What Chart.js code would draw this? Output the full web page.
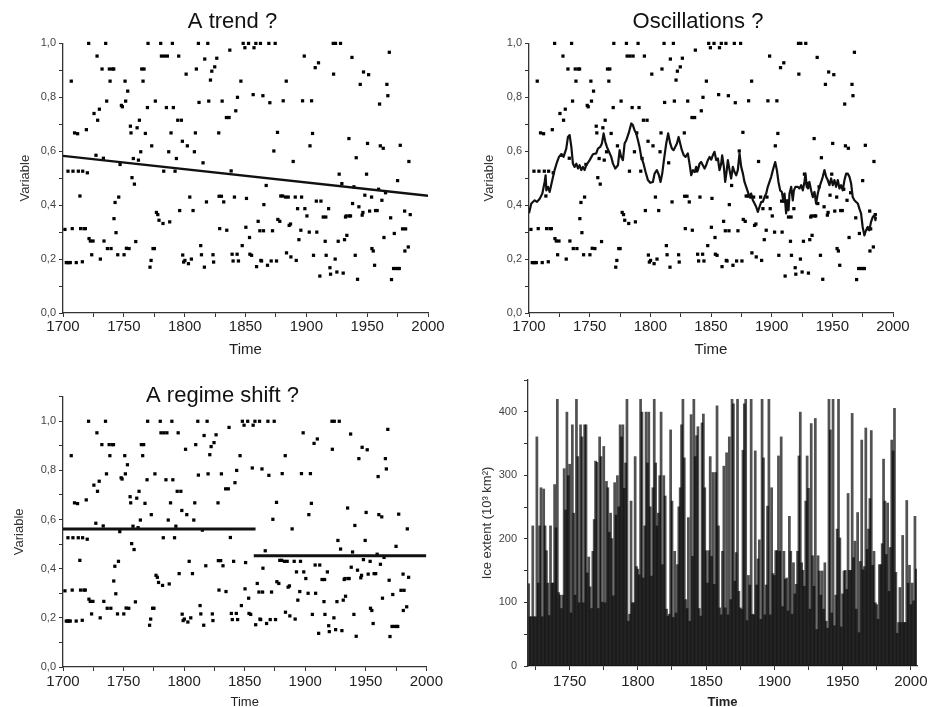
<!DOCTYPE html>
<html><head><meta charset="utf-8">
<script src="https://cdn.jsdelivr.net/npm/chart.js@4.4.0/dist/chart.umd.min.js"></script>
<style>
html,body{margin:0;padding:0;background:#fff;overflow:hidden;width:931px;height:707px;}
canvas{position:absolute;}
</style></head><body>
<canvas id="c1" width="465" height="362" style="left:0;top:0"></canvas>
<canvas id="c2" width="466" height="362" style="left:465px;top:0"></canvas>
<canvas id="c3" width="445" height="352" style="left:0;top:362px"></canvas>
<canvas id="c4" width="466" height="352" style="left:465px;top:362px"></canvas>
<script>
// ---- data ----
const dotYears = [1701.6,1702.7,1703.8,1704.1,1704.9,1706.0,1706.8,1707.6,1708.2,1709.5,1710.9,1712.0,1712.6,1713.9,1714.5,1715.9,1716.2,1717.3,1718.4,1719.2,1720.0,1721.1,1721.4,1722.5,1723.6,1724.7,1725.5,1727.1,1728.0,1728.5,1729.9,1730.7,1732.1,1733.2,1733.7,1735.1,1735.9,1736.5,1738.1,1738.7,1739.5,1740.6,1741.7,1741.9,1742.8,1743.6,1745.0,1745.8,1746.9,1748.0,1748.8,1750.2,1751.0,1751.5,1752.1,1753.2,1754.3,1755.4,1755.9,1756.7,1757.8,1758.7,1759.8,1760.9,1762.0,1762.8,1763.9,1764.7,1765.8,1766.6,1767.7,1769.4,1769.9,1771.5,1772.4,1772.9,1774.0,1775.1,1775.9,1776.8,1777.9,1778.9,1780.3,1780.9,1782.2,1782.8,1783.3,1785.0,1785.8,1786.9,1787.7,1788.8,1789.9,1790.7,1792.1,1793.2,1794.3,1795.1,1795.9,1797.3,1798.1,1798.4,1799.2,1800.2,1801.2,1802.2,1803.1,1804.2,1805.5,1806.9,1808.0,1808.8,1809.6,1811.3,1811.8,1813.2,1813.8,1815.1,1816.2,1816.5,1817.9,1819.0,1819.8,1821.2,1822.3,1823.3,1823.8,1824.7,1826.4,1828.0,1828.3,1828.8,1830.2,1830.8,1832.1,1834.3,1834.6,1836.5,1837.1,1838.2,1839.0,1839.8,1840.9,1842.0,1843.1,1843.4,1844.2,1846.2,1847.3,1848.1,1849.5,1850.3,1850.8,1852.5,1853.3,1853.6,1855.0,1856.3,1857.0,1858.5,1859.1,1860.4,1861.8,1862.3,1862.6,1863.2,1864.3,1864.8,1865.1,1867.0,1868.1,1869.2,1870.0,1871.1,1872.2,1873.3,1874.4,1875.5,1876.3,1876.6,1878.2,1879.0,1880.6,1881.0,1882.9,1883.5,1883.7,1885.1,1885.9,1887.0,1887.3,1889.2,1890.9,1891.7,1892.8,1893.9,1895.5,1896.1,1896.9,1898.3,1898.8,1900.5,1902.4,1903.0,1904.3,1905.1,1905.9,1907.3,1908.2,1908.6,1910.0,1911.1,1912.0,1913.9,1915.5,1916.0,1916.3,1918.3,1919.4,1919.9,1922.1,1922.4,1923.7,1924.0,1925.1,1926.2,1927.0,1928.1,1929.2,1930.3,1931.4,1932.2,1932.8,1933.3,1935.0,1935.3,1936.3,1937.5,1938.0,1939.1,1940.2,1941.0,1942.1,1943.2,1944.3,1945.9,1946.5,1947.0,1948.1,1949.5,1950.3,1951.2,1952.0,1953.6,1953.9,1955.0,1956.1,1956.9,1958.2,1959.4,1960.2,1960.8,1962.1,1963.2,1963.8,1965.1,1966.2,1967.0,1968.2,1969.3,1970.0,1971.7,1972.3,1973.4,1975.0,1975.3,1976.4,1977.2,1979.1,1980.8,1981.0,1981.6,1983.8,1984.3,1985.4];
const dotValues = [.31,.187,.187,.526,.187,.187,.86,.313,.526,.668,.187,.665,.526,.434,.313,.19,.526,.313,.313,.68,.52,1.0,.276,.267,.216,.267,.74,.585,.953,.715,.756,.2,.905,.574,.267,1.0,.786,.239,.905,.86,.239,.905,.905,.35,.41,.298,.216,.43,.551,.77,.765,.216,.86,.786,.24,.823,.239,.693,.668,.502,.573,.478,.265,.687,.567,.715,.598,.905,.86,.905,.666,.762,1.0,.17,.195,.62,.239,.239,.786,.373,.365,.344,1.0,.953,.332,.526,.953,.762,.953,.598,.338,.668,1.0,.762,.526,.573,.715,.953,.38,.715,.637,.215,.189,.195,.886,.62,.183,.43,.2,.38,.598,.668,.905,1.0,.781,.25,.216,.557,.17,.942,.412,1.0,.786,.864,.897,.216,.189,.913,.945,.668,.433,.313,.433,.786,.412,.725,.307,.725,.975,.527,.218,.193,.43,.75,.218,.8,.193,.86,.25,1.0,.984,.318,.425,1.0,.28,.218,.214,.81,.984,1.0,.172,.34,.305,1.0,.195,.193,.806,.305,.402,.473,.177,1.0,.78,.193,.305,.601,1.0,.193,.67,.347,.34,.434,.434,.787,.43,.86,.223,.43,.325,.33,.208,.562,.43,.195,.387,.272,.307,.43,.787,.953,.387,.36,.3,.62,.787,.666,.214,.91,.415,.3,.928,.137,.415,.356,.266,.356,.214,.387,.168,.144,1.0,.886,.2,1.0,.152,.266,.515,1.0,.48,.148,.272,.356,.36,.288,.647,.36,.36,.948,.406,.468,.214,.576,.125,.394,.848,.363,.373,.894,.437,.515,.629,.884,.378,.43,.239,.23,.177,.38,.38,.459,.775,.62,.418,.611,.28,.446,.848,.806,.967,.353,.124,.165,.295,.165,.491,.165,.165,.622,.312,.378,.23,.312,.245,.562,.365];

const trendYears = [1700, 2000];
const trendValues = [0.583, 0.435];

const regimeYears1 = [1700, 1859];
const regimeValues1 = [0.562, 0.562];
const regimeYears2 = [1857.5, 2000];
const regimeValues2 = [0.453, 0.453];

const smoothYears = [1700.0,1701.9,1704.7,1706.6,1708.8,1711.0,1712.9,1713.7,1714.3,1715.6,1717.0,1719.2,1721.1,1723.1,1724.7,1726.6,1728.5,1730.7,1732.1,1733.5,1734.9,1736.2,1737.6,1739.0,1740.4,1741.7,1743.1,1744.5,1745.8,1747.2,1750.0,1752.7,1755.4,1756.8,1758.7,1760.1,1761.5,1762.9,1764.2,1765.9,1767.8,1769.2,1771.1,1773.3,1774.7,1776.0,1777.4,1778.8,1780.2,1782.1,1784.3,1785.6,1787.0,1788.4,1789.8,1791.1,1792.5,1794.4,1796.1,1798.0,1799.9,1802.1,1803.5,1805.4,1807.1,1808.4,1809.8,1811.2,1813.1,1814.7,1816.4,1817.8,1819.1,1820.5,1821.9,1823.3,1824.6,1826.0,1827.6,1829.0,1830.9,1832.3,1833.7,1835.1,1836.5,1837.8,1839.2,1840.6,1841.9,1843.3,1844.7,1846.0,1847.4,1848.8,1850.2,1851.5,1852.9,1854.3,1855.7,1857.0,1858.4,1859.2,1860.6,1861.7,1862.8,1863.9,1865.3,1866.6,1868.0,1869.4,1870.8,1872.1,1873.5,1874.9,1876.3,1877.6,1879.0,1880.4,1881.7,1883.1,1884.5,1885.9,1887.2,1888.6,1890.0,1891.4,1892.7,1894.1,1895.5,1896.8,1898.2,1899.6,1901.0,1902.9,1904.3,1905.6,1907.0,1908.4,1909.7,1910.6,1911.9,1912.8,1913.9,1914.7,1916.1,1917.4,1918.3,1919.6,1921.5,1922.9,1924.3,1925.7,1927.0,1927.9,1928.9,1930.0,1931.1,1932.5,1933.9,1935.3,1936.6,1938.0,1939.4,1940.8,1942.1,1943.5,1944.9,1946.2,1947.6,1949.0,1950.4,1951.7,1953.1,1954.5,1955.9,1957.2,1958.6,1960.0,1961.4,1962.7,1964.1,1965.5,1966.8,1968.2,1969.6,1971.0,1972.3,1973.7,1975.0,1976.4,1977.8,1979.2,1980.5,1981.9,1983.3,1984.7,1985.5,1986.0];
const smoothValues = [.37,.406,.418,.412,.424,.443,.486,.511,.455,.468,.449,.493,.53,.56,.579,.589,.579,.61,.653,.66,.616,.554,.542,.554,.536,.548,.53,.542,.53,.548,.567,.589,.592,.61,.616,.629,.666,.635,.616,.598,.579,.554,.536,.548,.604,.579,.567,.629,.641,.666,.703,.697,.678,.666,.641,.616,.579,.554,.523,.493,.483,.486,.517,.53,.511,.486,.517,.567,.629,.666,.629,.61,.604,.616,.629,.653,.629,.604,.585,.579,.592,.554,.511,.53,.523,.542,.53,.554,.56,.548,.536,.548,.567,.579,.569,.585,.598,.567,.573,.53,.554,.585,.542,.486,.523,.567,.53,.499,.542,.523,.511,.53,.592,.542,.517,.486,.468,.449,.43,.443,.418,.406,.394,.375,.394,.412,.412,.43,.443,.468,.486,.505,.53,.56,.53,.486,.455,.449,.412,.443,.369,.418,.381,.443,.468,.418,.455,.468,.468,.462,.474,.455,.486,.517,.468,.462,.486,.455,.43,.449,.406,.443,.468,.486,.505,.53,.505,.493,.474,.499,.474,.493,.468,.493,.462,.474,.455,.493,.517,.517,.505,.48,.43,.418,.412,.406,.387,.369,.319,.288,.307,.319,.307,.338,.356,.363,.344,.356];

const iceFirstYear = 1720;
const iceValues = [130,78,78,221,78,78,361,131,221,281,78,279,221,182,131,80,221,131,131,286,218,420,116,112,91,112,311,246,400,300,318,84,380,241,112,420,330,100,380,361,100,380,380,147,172,125,91,181,231,323,321,91,361,330,101,346,100,291,281,211,241,201,111,289,238,300,251,380,361,380,280,320,420,71,82,260,100,100,330,157,153,144,420,400,139,221,400,320,400,251,142,281,420,320,221,241,300,400,160,300,268,90,79,82,372,260,77,181,84,160,251,281,380,420,328,105,91,234,71,396,173,420,330,363,377,91,79,383,397,281,182,131,182,330,173,305,129,305,410,221,92,81,181,315,92,336,81,361,105,420,413,134,179,420,118,92,90,340,413,420,72,143,128,420,82,81,339,128,169,199,74,420,328,81,128,252,420,81,281,146,143,182,182,331,181,361,94,181,137,139,87,236,181,82,163,114,129,181,331,400,163,151,126,260,331,280,90,382,174,126,390,58,174,150,112,150,90,163,71,60,420,372,84,420,64,112,216,420,202,62,114,150,151,121,272,151,151,398,171,197,90,242,53,165,356,152,157,375,184,216,264,371,159,181,100,97,74,160,160,193,326,260,176,257,118,187,356,339,406,148,52,69,124,69,206,69,69,261,131,159,97,131,103,236,153];
const iceYears = iceValues.map((_, i) => iceFirstYear + i);

const xTickLabels = [1700, 1750, 1800, 1850, 1900, 1950, 2000];
const varTickLabels = ['0,0','0,2','0,4','0,6','0,8','1,0'];
const iceTickLabels = [0, 100, 200, 300, 400];

// ---- helpers ----
Chart.defaults.font.family = "'Liberation Sans', Arial, Helvetica, sans-serif";
Chart.defaults.color = '#333';
const AX = '#333';
function pts(xs, ys) { return xs.map((x, i) => ({x: x, y: ys[i]})); }

function xScale(c) {
  return {
    type: 'linear', position: 'bottom', min: c.min, max: c.max, offset: false,
    border: {display: true, color: AX, width: 1.3},
    grid: {display: true, offset: false, drawOnChartArea: false, drawTicks: true, tickLength: 4, color: AX, lineWidth: 1},
    ticks: {stepSize: 25, includeBounds: false, autoSkip: false, maxRotation: 0, minRotation: 0,
      padding: c.tickPad, color: '#222', font: {size: 15},
      callback: v => { const r = Math.round(v); return xTickLabels.includes(r) ? String(r) : ''; }},
    title: {display: true, text: 'Time', color: '#222',
      font: {size: c.titleSize, weight: c.titleWeight || 'normal'}, padding: {top: 0, bottom: c.titlePad}},
    afterFit: s => { s.height = c.height; }
  };
}
function yVar(c) {
  return {
    type: 'linear', position: 'left', min: 0, max: c.max,
    border: {display: true, color: AX, width: 1.3},
    grid: {display: true, drawOnChartArea: false, drawTicks: true, tickLength: 4, color: AX, lineWidth: 1},
    ticks: {stepSize: 0.1, includeBounds: false, autoSkip: false, padding: 3, color: '#444', font: {size: 11},
      callback: v => { const k = Math.round(v * 10); return (k % 2 === 0 && k <= 10) ? varTickLabels[k / 2] : ''; }},
    title: {display: true, text: 'Variable', color: '#333', font: {size: 13}, padding: {top: c.titlePad, bottom: 0}},
    afterFit: s => { s.width = c.width; }
  };
}
function dummyRight(w) {
  return {type: 'linear', position: 'right', display: true, grid: {display: false}, border: {display: false},
    ticks: {display: false}, afterFit: s => { s.width = w; }};
}
function dotsDataset() {
  return {data: pts(dotYears, dotValues), pointStyle: 'rect', pointRadius: 2.3, pointBackgroundColor: '#000',
    pointBorderWidth: 0, showLine: false, clip: false};
}
function lineDataset(xs, ys, w) {
  return {data: pts(xs, ys), showLine: true, borderColor: '#111', borderWidth: w, pointRadius: 0, fill: false, tension: 0,
    borderJoinStyle: 'round'};
}
const base = {responsive: false, animation: false, devicePixelRatio: 1, events: []};
function titleCfg(text, top, bottom) {
  return {display: true, text: text, color: '#111', font: {size: 22, weight: 'normal'}, padding: {top: top, bottom: bottom}};
}

// ---- Panel 1 : A trend ? ----
new Chart(document.getElementById('c1'), {
  type: 'scatter',
  data: {datasets: [lineDataset(trendYears, trendValues, 2.4), dotsDataset()]},
  options: Object.assign({}, base, {
    layout: {padding: 0},
    plugins: {legend: {display: false}, tooltip: {enabled: false}, title: titleCfg('A trend ?', 9, 8)},
    scales: {
      x: xScale({min: 1700, max: 2000, tickPad: 1, titleSize: 15, titlePad: 3, height: 49}),
      y: yVar({max: 1, width: 63, titlePad: 18}),
      yr: dummyRight(37)
    }
  })
});

// ---- Panel 2 : Oscillations ? ----
new Chart(document.getElementById('c2'), {
  type: 'scatter',
  data: {datasets: [lineDataset(smoothYears, smoothValues, 2.2), dotsDataset()]},
  options: Object.assign({}, base, {
    layout: {padding: 0},
    plugins: {legend: {display: false}, tooltip: {enabled: false}, title: titleCfg('Oscillations ?', 9, 8)},
    scales: {
      x: xScale({min: 1700, max: 2000, tickPad: 1, titleSize: 15, titlePad: 3, height: 49}),
      y: yVar({max: 1, width: 64, titlePad: 17}),
      yr: dummyRight(38)
    }
  })
});

// ---- Panel 3 : A regime shift ? ----
new Chart(document.getElementById('c3'), {
  type: 'scatter',
  data: {datasets: [lineDataset(regimeYears1, regimeValues1, 3), lineDataset(regimeYears2, regimeValues2, 3), dotsDataset()]},
  options: Object.assign({}, base, {
    layout: {padding: 0},
    plugins: {legend: {display: false}, tooltip: {enabled: false}, title: titleCfg('A regime shift ?', 21, -12.7)},
    scales: {
      x: xScale({min: 1700, max: 2000, tickPad: 2, titleSize: 13, titlePad: 4, height: 47}),
      y: yVar({max: 1.1, width: 63, titlePad: 12}),
      yr: dummyRight(17)
    }
  })
});

// ---- Panel 4 : Ice extent ----
new Chart(document.getElementById('c4'), {
  type: 'bar',
  data: {datasets: [{data: pts(iceYears, iceValues), backgroundColor: 'rgba(0,0,0,0.68)', borderWidth: 0,
    barPercentage: 2.0, categoryPercentage: 1, grouped: false}]},
  options: Object.assign({}, base, {
    layout: {padding: {top: 18, right: 14, left: 0, bottom: 0}},
    plugins: {legend: {display: false}, tooltip: {enabled: false}},
    scales: {
      x: xScale({min: 1719.5, max: 2004.5, tickPad: 3, titleSize: 13, titleWeight: 'bold', titlePad: 4, height: 48}),
      y: {
        type: 'linear', position: 'left', min: 0, max: 450,
        border: {display: true, color: AX, width: 1.3},
        grid: {display: true, drawOnChartArea: false, drawTicks: true, tickLength: 4, color: AX, lineWidth: 1},
        ticks: {stepSize: 50, includeBounds: false, autoSkip: false, padding: 7, color: '#444', font: {size: 11},
          callback: v => iceTickLabels.includes(Math.round(v)) ? String(Math.round(v)) : ''},
        title: {display: true, text: 'Ice extent (10³ km²)', color: '#333', font: {size: 13}, padding: {top: 15, bottom: 0}},
        afterFit: s => { s.width = 63; }
      }
    }
  })
});
</script>
</body></html>
